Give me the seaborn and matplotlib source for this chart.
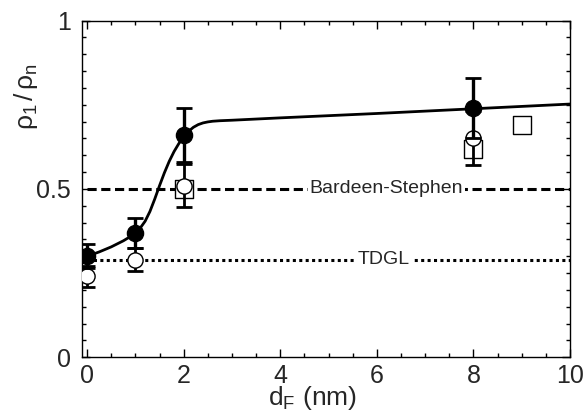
import numpy as np
import pandas as pd
import matplotlib
matplotlib.use("Agg")
import matplotlib.pyplot as plt
import seaborn as sns
from matplotlib.ticker import MultipleLocator, FixedLocator

d_filled = [0, 1, 2, 8]
rho_filled = [0.30, 0.37, 0.66, 0.74]
err_filled = [0.035, 0.045, 0.08, 0.09]

d_open = [0, 1, 2, 8]
rho_open = [0.24, 0.29, 0.51, 0.65]
err_open = [0.03, 0.035, 0.063, 0.08]

d_square = [2, 8, 9]
rho_square = [0.50, 0.62, 0.69]

# fit curve
curve_d = [0, 0.25, 0.5, 0.75, 0.9, 1.0, 1.1, 1.2, 1.3, 1.4, 1.5, 1.6, 1.7, 1.8, 1.9,
           2.0, 2.1, 2.2, 2.3, 2.4, 2.5, 2.6, 2.75, 3, 4, 6, 8, 10]
curve_rho = [0.300, 0.313, 0.328, 0.346, 0.359, 0.370, 0.384, 0.404, 0.433, 0.470,
             0.510, 0.548, 0.582, 0.611, 0.635, 0.655, 0.671, 0.683, 0.691, 0.696,
             0.699, 0.701, 0.7025, 0.704, 0.711, 0.724, 0.738, 0.752]

bs_level = 0.5
tdgl_level = 0.29
x_ticks = [0, 2, 4, 6, 8, 10]
y_ticks = [0, 0.5, 1]
y_ticklabels = ["0", "0.5", "1"]

sns.set_style("ticks")
plt.rcParams['font.family'] = ['Liberation Sans', 'DejaVu Sans']
plt.rcParams['mathtext.fontset'] = 'custom'
plt.rcParams['mathtext.rm'] = 'Liberation Sans'
plt.rcParams['mathtext.it'] = 'Liberation Sans'
plt.rcParams['mathtext.bf'] = 'Liberation Sans:bold'

fig = plt.figure(figsize=(5.83, 4.19), dpi=100)
ax = fig.add_axes([0.1412, 0.1472, 0.8365, 0.8038])

# reference lines
ax.hlines(bs_level, 0, 10, colors='black', linewidth=2.2, linestyles=(0, (3, 1.5)), zorder=1)
ax.hlines(tdgl_level, 0, 10, colors='black', linewidth=2.2, linestyles=(0, (1, 1.1)), zorder=1)
ax.text(6.2, bs_level, "Bardeen-Stephen", fontsize=14, ha='center', va='center',
        bbox=dict(facecolor='white', edgecolor='none', pad=1), zorder=2)
ax.text(6.15, tdgl_level, "TDGL", fontsize=14, ha='center', va='center',
        bbox=dict(facecolor='white', edgecolor='none', pad=1), zorder=2)

# squares
sns.scatterplot(x=d_square, y=rho_square, marker='s', s=170, color='white',
                edgecolor='black', linewidth=1, ax=ax, zorder=3)

# open circles
ax.errorbar(d_open, rho_open, yerr=err_open, fmt='none', ecolor='black',
            elinewidth=2, capsize=5.5, capthick=2, zorder=4)
sns.scatterplot(x=d_open, y=rho_open, marker='o', s=120, color='white',
                edgecolor='black', linewidth=1, ax=ax, zorder=5)

# curve + filled circles
sns.lineplot(x=curve_d, y=curve_rho, sort=False, color='black', linewidth=2, ax=ax, zorder=6)
ax.errorbar(d_filled, rho_filled, yerr=err_filled, fmt='none', ecolor='black',
            elinewidth=2.4, capsize=5.5, capthick=2, zorder=7)
sns.scatterplot(x=d_filled, y=rho_filled, marker='o', s=135, color='black',
                edgecolor='black', linewidth=1, ax=ax, zorder=8)

ax.set_xlim(-0.1, 10)
ax.set_ylim(0, 1)
ax.xaxis.set_major_locator(FixedLocator(x_ticks))
ax.xaxis.set_minor_locator(MultipleLocator(0.5))
ax.yaxis.set_major_locator(FixedLocator(y_ticks))
ax.set_yticklabels(y_ticklabels)
ax.yaxis.set_minor_locator(MultipleLocator(0.05))
ax.tick_params(which='both', direction='in', top=True, right=True, color='black', width=1)
ax.tick_params(which='major', length=6, labelsize=18)
ax.tick_params(which='minor', length=3)
ax.tick_params(axis='y', which='major', pad=8.5)
ax.tick_params(axis='x', which='major', pad=5)
for sp in ax.spines.values():
    sp.set_visible(True)
    sp.set_color('black')
    sp.set_linewidth(1)

ax.set_xlabel(r"$\mathrm{d}_{\mathrm{F}}$ (nm)", fontsize=19)
ax.set_ylabel(r"$\rho_1\,/\,\rho_n$", fontsize=19)
ax.xaxis.set_label_coords(0.471, -0.078)
ax.yaxis.set_label_coords(-0.087, 0.773)

fig.savefig("out.png", dpi=100)
